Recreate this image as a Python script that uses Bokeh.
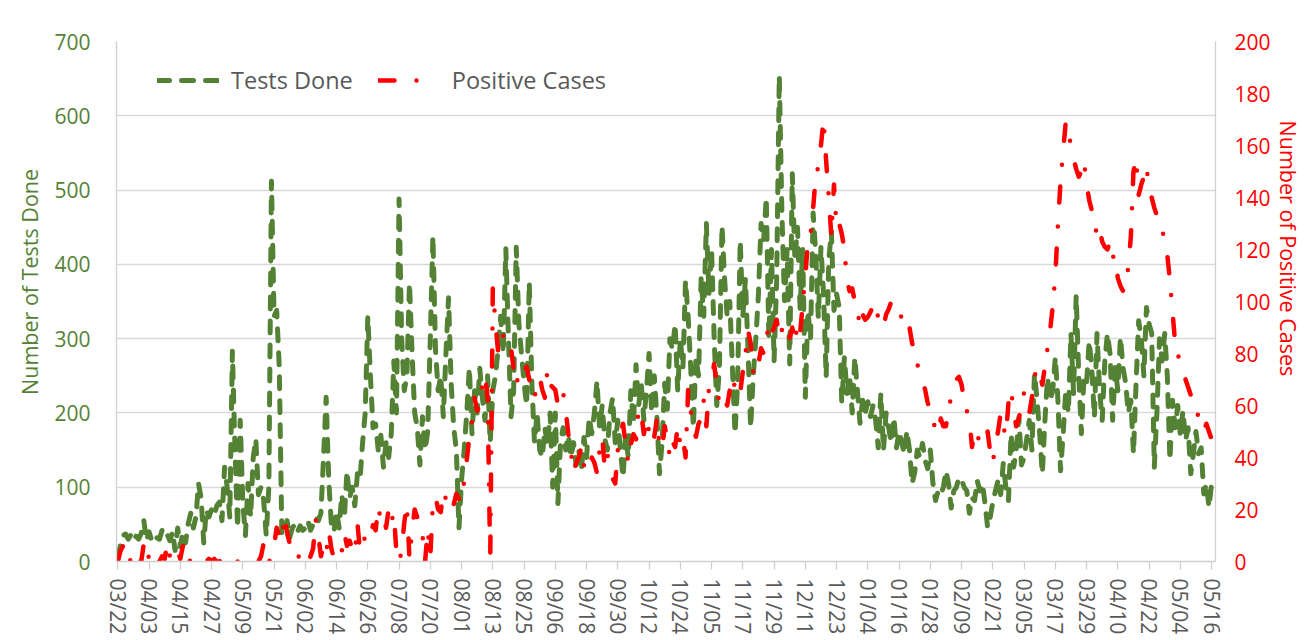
from bokeh.plotting import figure
from bokeh.models import Range1d, LinearAxis, FixedTicker, Legend, LegendItem
from bokeh.embed import file_html
from bokeh.resources import INLINE

# daily values, 03/22 .. 05/17 (422 days)
tests_done = [
    5, 22, 35, 37, 30, 36, 28, 34, 30, 38, 55, 28,
    40, 28, 35, 32, 30, 42, 33, 36, 28, 40, 15, 45,
    20, 40, 25, 50, 65, 45, 60, 105, 85, 25, 70, 60,
    70, 62, 75, 80, 55, 127, 100, 60, 283, 150, 45, 190,
    80, 35, 105, 60, 140, 165, 90, 100, 83, 35, 100, 512,
    330, 338, 262, 35, 40, 55, 32, 45, 50, 40, 48, 42,
    45, 55, 42, 50, 60, 55, 65, 140, 221, 110, 50, 40,
    68, 45, 90, 60, 122, 85, 100, 75, 118, 110, 160, 200,
    330, 250, 180, 185, 150, 170, 127, 160, 140, 172, 270, 200,
    488, 300, 230, 250, 375, 280, 200, 180, 130, 195, 150, 175,
    300, 438, 285, 230, 250, 195, 280, 355, 240, 180, 150, 45,
    110, 150, 200, 261, 172, 230, 200, 260, 220, 190, 250, 160,
    230, 250, 284, 330, 280, 421, 300, 195, 230, 423, 320, 280,
    240, 210, 376, 240, 160, 200, 150, 140, 180, 155, 200, 100,
    200, 78, 160, 180, 150, 170, 140, 160, 130, 150, 122, 167,
    140, 194, 172, 200, 243, 180, 210, 165, 150, 200, 220, 160,
    190, 150, 113, 172, 140, 230, 185, 265, 210, 240, 190, 230,
    280, 200, 250, 195, 118, 160, 240, 205, 300, 285, 320, 230,
    300, 260, 378, 330, 260, 180, 275, 250, 382, 330, 455, 360,
    420, 300, 210, 260, 452, 380, 330, 350, 261, 172, 240, 432,
    330, 380, 284, 180, 250, 300, 360, 455, 432, 490, 300, 420,
    270, 380, 654, 470, 351, 420, 266, 522, 405, 450, 340, 420,
    221, 338, 300, 469, 414, 328, 423, 360, 248, 405, 445, 338,
    360, 342, 213, 275, 226, 250, 200, 275, 230, 186, 217, 200,
    215, 195, 210, 190, 153, 226, 150, 200, 180, 160, 194, 153,
    175, 160, 145, 176, 150, 105, 120, 150, 140, 159, 136, 125,
    150, 105, 82, 95, 90, 100, 122, 105, 72, 95, 100, 113,
    110, 100, 95, 65, 86, 82, 109, 95, 105, 78, 46, 60,
    80, 95, 109, 90, 132, 100, 82, 172, 127, 150, 194, 130,
    140, 165, 190, 150, 253, 217, 172, 118, 190, 248, 217, 230,
    275, 217, 122, 172, 230, 200, 307, 226, 358, 250, 172, 248,
    240, 297, 260, 194, 307, 230, 190, 270, 307, 280, 190, 261,
    230, 302, 261, 240, 200, 217, 145, 240, 324, 300, 250, 342,
    320, 307, 127, 200, 300, 270, 307, 250, 136, 217, 180, 210,
    170, 203, 163, 180, 118, 145, 175, 145, 153, 91, 105, 73,
    105, 95,
]

positive_cases = [
    0, 4, 6, 1, 2, 0, 3, 1, 2, 0, 7, 1,
    2, 0, 3, 1, 0, 2, 1, 7, 2, 0, 1, 4,
    1, 6, 0, 1, 0, 0, 1, 2, 0, 0, 0, 1,
    0, 1, 0, 0, 1, 0, 0, 0, 1, 0, 0, 0,
    0, 0, 0, 1, 0, 0, 0, 2, 7, 3, 0, 1,
    6, 13, 10, 8, 18, 11, 7, 4, 2, 1, 3, 0,
    1, 0, 2, 5, 16, 10, 2, 6, 3, 12, 5, 1,
    0, 2, 4, 11, 6, 8, 5, 3, 15, 4, 6, 10,
    8, 9, 14, 12, 21, 16, 18, 13, 20, 15, 19, 3,
    0, 4, 15, 22, 1, 12, 20, 17, 14, 10, 0, 12,
    2, 23, 25, 20, 19, 27, 24, 22, 25, 22, 26, 24,
    23, 31, 39, 48, 54, 63, 58, 60, 68, 72, 63, 0,
    105, 92, 81, 80, 87, 84, 85, 82, 74, 68, 72, 75,
    73, 75, 70, 65, 63, 68, 71, 66, 63, 74, 68, 67,
    66, 60, 62, 65, 58, 49, 42, 34, 38, 40, 44, 37,
    39, 36, 40, 38, 34, 43, 48, 36, 41, 38, 32, 30,
    43, 49, 53, 45, 38, 45, 49, 47, 59, 57, 49, 55,
    50, 53, 48, 55, 45, 43, 52, 47, 40, 46, 44, 52,
    45, 48, 40, 66, 58, 50, 48, 53, 55, 62, 52, 67,
    70, 76, 67, 61, 64, 62, 60, 66, 63, 70, 68, 65,
    73, 80, 89, 84, 73, 78, 76, 82, 80, 85, 92, 88,
    90, 93, 86, 89, 88, 91, 86, 90, 84, 92, 88, 99,
    110, 123, 126, 136, 148, 152, 160, 170, 154, 140, 125, 145,
    128, 130, 126, 120, 108, 104, 105, 100, 97, 90, 95, 93,
    94, 96, 98, 93, 95, 92, 90, 95, 97, 100, 98, 95,
    95, 94, 96, 93, 90, 84, 80, 76, 72, 70, 66, 61,
    58, 55, 50, 49, 55, 52, 52, 59, 63, 67, 70, 71,
    68, 62, 58, 55, 44, 50, 47, 48, 49, 46, 50, 42,
    38, 45, 50, 57, 52, 48, 61, 66, 58, 52, 55, 60,
    65, 60, 57, 63, 71, 75, 72, 68, 75, 82, 89, 98,
    110, 130, 146, 158, 169, 165, 160, 155, 151, 148, 150, 154,
    145, 139, 135, 131, 125, 128, 123, 121, 120, 123, 117, 118,
    109, 106, 104, 107, 113, 125, 150, 155, 141, 145, 148, 152,
    143, 140, 136, 133, 131, 128, 123, 118, 108, 96, 84, 80,
    76, 74, 70, 67, 64, 63, 60, 55, 52, 50, 53, 50,
    47, 45,
]

tick_labels = ["03/22", "04/03", "04/15", "04/27", "05/09", "05/21", "06/02", "06/14",
               "06/26", "07/08", "07/20", "08/01", "08/13", "08/25", "09/06", "09/18",
               "09/30", "10/12", "10/24", "11/05", "11/17", "11/29", "12/11", "12/23",
               "01/04", "01/16", "01/28", "02/09", "02/21", "03/05", "03/17", "03/29",
               "04/10", "04/22", "05/04", "05/16"]

n = min(len(tests_done), len(positive_cases))
days = list(range(n))
tick_pos = [12 * i for i in range(len(tick_labels))]

GREEN = "#548235"
RED = "#FF0000"
GREY = "#595959"
AXIS = "#D0D0D0"
FONT = "Open Sans"
NBSP = "\u00a0"

p = figure(width=1305, height=640, output_backend="svg", toolbar_location=None,
           x_range=Range1d(-0.5, 421.5), y_range=Range1d(0, 700),
           min_border_left=116, min_border_right=89, min_border_top=41, min_border_bottom=79)
p.outline_line_color = None
p.xgrid.grid_line_color = None
p.ygrid.grid_line_color = "#D9D9D9"
p.ygrid.grid_line_width = 1.3
p.ygrid.ticker = FixedTicker(ticks=list(range(0, 701, 100)))

# x axis
xa = p.xaxis[0]
xa.ticker = FixedTicker(ticks=tick_pos)
xa.major_label_overrides = {tp: lab for tp, lab in zip(tick_pos, tick_labels)}
xa.major_label_orientation = "vertical"
xa.major_label_text_font = FONT
xa.major_label_text_font_size = "21px"
xa.major_label_text_color = GREY
xa.axis_line_color = AXIS
xa.axis_line_width = 1.3
xa.major_tick_line_color = AXIS
xa.major_tick_line_width = 1.3
xa.major_tick_out = 8
xa.major_tick_in = 0
xa.minor_tick_line_color = None
xa.major_label_standoff = 9

# left axis (label nudged upward like the reference)
ya = p.yaxis[0]
ya.ticker = FixedTicker(ticks=list(range(0, 701, 100)))
ya.axis_label = NBSP * 7 + "Number of Tests Done"
ya.axis_label_text_font = FONT
ya.axis_label_text_font_size = "21.5px"
ya.axis_label_text_font_style = "normal"
ya.axis_label_text_color = GREEN
ya.axis_label_standoff = 7
ya.major_label_text_font = FONT
ya.major_label_text_font_size = "21px"
ya.major_label_text_color = GREEN
ya.major_label_standoff = 20
ya.axis_line_color = AXIS
ya.axis_line_width = 1.3
ya.major_tick_line_color = None
ya.minor_tick_line_color = None

# right axis (label nudged upward like the reference)
p.extra_y_ranges = {"cases": Range1d(0, 200)}
ra = LinearAxis(y_range_name="cases", ticker=FixedTicker(ticks=list(range(0, 201, 20))))
ra.axis_label = "Number of Positive Cases" + NBSP * 19
ra.axis_label_text_font = FONT
ra.axis_label_text_font_size = "21.5px"
ra.axis_label_text_font_style = "normal"
ra.axis_label_text_color = RED
ra.axis_label_standoff = 0
ra.major_label_text_font = FONT
ra.major_label_text_font_size = "21px"
ra.major_label_text_color = RED
ra.major_label_standoff = 13
ra.axis_line_color = AXIS
ra.axis_line_width = 1.3
ra.major_tick_line_color = None
ra.minor_tick_line_color = None
p.add_layout(ra, "right")

g = p.line(days, tests_done[:n], line_color=GREEN, line_width=5, line_dash="12 12",
           line_cap="round", line_join="round")
r = p.line(days, positive_cases[:n], y_range_name="cases", line_color=RED, line_width=4.5,
           line_dash="16 22 0 24", line_cap="round", line_join="round")

legend = Legend(items=[LegendItem(label="Tests Done", renderers=[g]),
                       LegendItem(label="Positive Cases", renderers=[r])],
                orientation="horizontal", location=(41, 465),
                glyph_width=62, glyph_height=20, label_standoff=12, spacing=25,
                padding=0, margin=0, border_line_color=None, background_fill_alpha=0,
                label_text_font=FONT, label_text_font_size="23.5px", label_text_color=GREY)
p.add_layout(legend)

open("out.html", "w").write(file_html(p, INLINE))
